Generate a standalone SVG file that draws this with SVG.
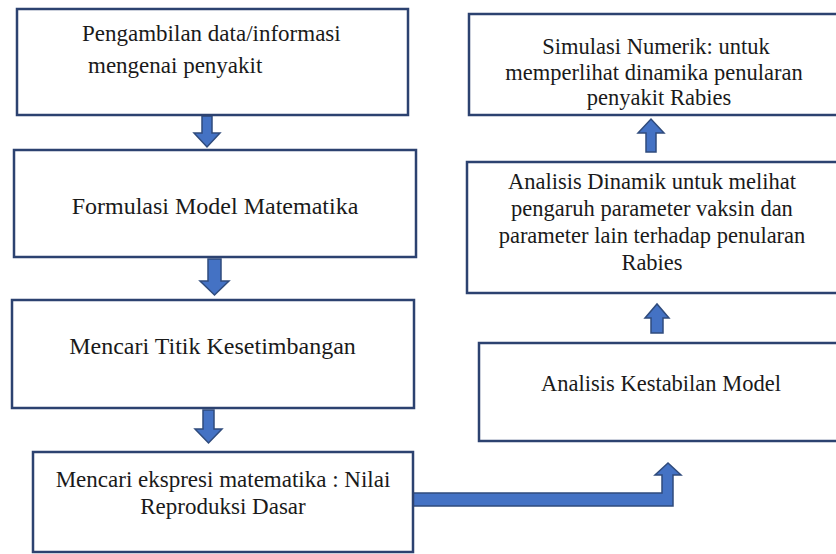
<svg xmlns="http://www.w3.org/2000/svg" width="836" height="554" viewBox="0 0 836 554">
<style>
.box{fill:#fff;stroke:#2C4270;stroke-width:2.5}
.t{font-family:"Liberation Serif","Times New Roman",serif;fill:#1a1a1a;text-anchor:middle}
.l{font-size:23px}
.xl{font-size:24px}
.r{font-size:22.5px}
.arr{fill:#4472C4;stroke:#2F4B7C;stroke-width:1.5;stroke-linejoin:miter}
</style>
<rect width="836" height="554" fill="#fff"/>
<g id="connectors">
<polygon class="arr" points="202,116 212,116 212,133 220,133 207,147 194,133 202,133"/>
<polygon class="arr" points="208,259 221,259 221,281 229,281 214.5,295 200,281 208,281"/>
<polygon class="arr" points="203,410 214,410 214,429 222,429 208.5,443 195,429 203,429"/>
<polygon class="arr" points="646,152 656,152 656,133 664,133 651,119 638,133 646,133"/>
<polygon class="arr" points="651,333 663,333 663,318 669,318 657,304 645,318 651,318"/>
<polygon class="arr" points="413,493 662,493 662,475 655,475 668,463 681,475 673,475 673,506 413,506"/>
</g>
<g id="n1">
<rect class="box" x="17" y="9" width="391" height="106"/>
<text class="t l" x="82" y="41" style="text-anchor:start">Pengambilan data/informasi</text>
<text class="t l" x="88" y="73" style="text-anchor:start">mengenai penyakit</text>
</g>
<g id="n2">
<rect class="box" x="14" y="150" width="402" height="107"/>
<text class="t xl" x="215" y="214">Formulasi Model Matematika</text>
</g>
<g id="n3">
<rect class="box" x="12" y="300" width="402" height="108"/>
<text class="t xl" x="212.5" y="354">Mencari Titik Kesetimbangan</text>
</g>
<g id="n4">
<rect class="box" x="33" y="452" width="380" height="100"/>
<text class="t l" x="223" y="487">Mencari ekspresi matematika : Nilai</text>
<text class="t l" x="223" y="514">Reproduksi Dasar</text>
</g>
<g id="n5">
<rect class="box" x="469" y="14" width="372" height="101"/>
<text class="t r" x="656" y="54">Simulasi Numerik: untuk</text>
<text class="t r" x="654" y="80">memperlihat dinamika penularan</text>
<text class="t r" x="659" y="105">penyakit Rabies</text>
</g>
<g id="n6">
<rect class="box" x="467" y="162" width="374" height="131"/>
<text class="t r" x="652" y="189">Analisis Dinamik untuk melihat</text>
<text class="t r" x="652" y="216">pengaruh parameter vaksin dan</text>
<text class="t r" x="652" y="243">parameter lain terhadap penularan</text>
<text class="t r" x="652" y="270">Rabies</text>
</g>
<g id="n7">
<rect class="box" x="479" y="343" width="362" height="98"/>
<text class="t r" x="661" y="391">Analisis Kestabilan Model</text>
</g>
</svg>
